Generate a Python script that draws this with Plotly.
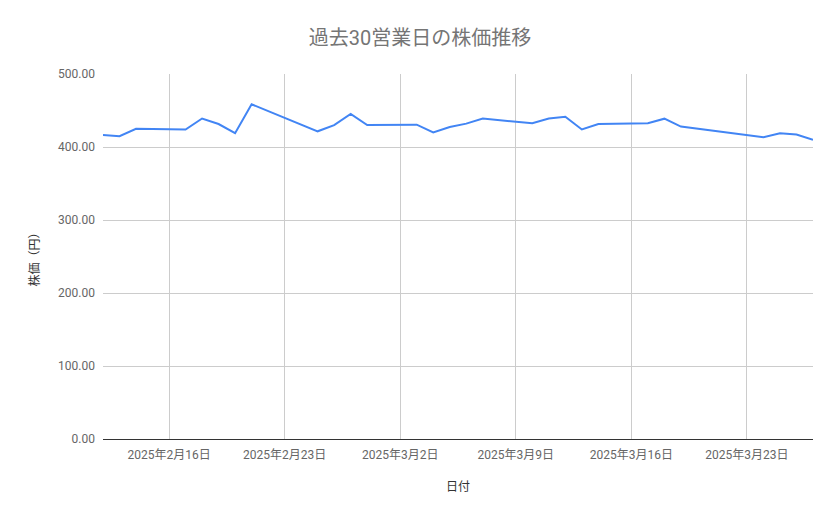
import plotly.graph_objects as go

dates = ["2025-02-12", "2025-02-13", "2025-02-14", "2025-02-17", "2025-02-18",
         "2025-02-19", "2025-02-20", "2025-02-21", "2025-02-25", "2025-02-26",
         "2025-02-27", "2025-02-28", "2025-03-03", "2025-03-04", "2025-03-05",
         "2025-03-06", "2025-03-07", "2025-03-10", "2025-03-11", "2025-03-12",
         "2025-03-13", "2025-03-14", "2025-03-17", "2025-03-18", "2025-03-19",
         "2025-03-21", "2025-03-24", "2025-03-25", "2025-03-26", "2025-03-27"]
prices = [416.4, 414.8, 425.0, 424.0, 439.0,
          431.5, 419.0, 458.5, 421.5, 430.0,
          445.3, 430.0, 430.6, 420.0, 427.5,
          432.0, 439.0, 432.5, 439.0, 441.5,
          424.0, 431.5, 432.5, 438.8, 428.0,
          422.5, 413.5, 418.8, 417.2, 410.0]

x_tick_vals = ["2025-02-16", "2025-02-23", "2025-03-02", "2025-03-09", "2025-03-16", "2025-03-23"]
x_tick_text = ["2025年2月16日", "2025年2月23日", "2025年3月2日", "2025年3月9日", "2025年3月16日", "2025年3月23日"]
y_tick_vals = [0, 100, 200, 300, 400, 500]
y_tick_text = ["0.00", "100.00", "200.00", "300.00", "400.00", "500.00"]

font_family = "Roboto, 'Noto Sans CJK JP', sans-serif"

# the page body adds an 8px offset, so the figure is 8px smaller on each side
W, H = 831, 511

fig = go.Figure()
fig.add_trace(go.Scatter(
    x=dates, y=prices, mode="lines",
    line=dict(color="#4285F4", width=2),
    showlegend=False,
))

fig.update_layout(
    width=W, height=H,
    margin=dict(l=95, r=26, t=66, b=80),
    paper_bgcolor="white", plot_bgcolor="white",
    font=dict(family=font_family),
    title=dict(text="過去30営業日の株価推移", x=(420 - 8) / W, xanchor="center",
               y=1 - 30 / H, yanchor="middle",
               font=dict(size=20, color="#757575", family=font_family)),
    xaxis=dict(
        type="date",
        range=["2025-02-12", "2025-03-27"],
        tickvals=x_tick_vals, ticktext=x_tick_text,
        showgrid=True, gridcolor="#cccccc", gridwidth=1,
        tickfont=dict(size=12, color="#666666"),
        ticks="", zeroline=False, showline=False,
        ticklabelstandoff=7,
        title=dict(text="日付", font=dict(size=12, color="#333333"), standoff=21),
    ),
    yaxis=dict(
        range=[0, 500],
        tickvals=y_tick_vals, ticktext=y_tick_text,
        showgrid=True, gridcolor="#cccccc", gridwidth=1,
        tickfont=dict(size=12, color="#666666"),
        zeroline=True, zerolinecolor="#333333", zerolinewidth=1,
        showline=False, ticks="", ticklabelstandoff=7,
        title=dict(text="株価（円）", font=dict(size=12, color="#333333"), standoff=15),
    ),
)

fig.write_html("out.html")
